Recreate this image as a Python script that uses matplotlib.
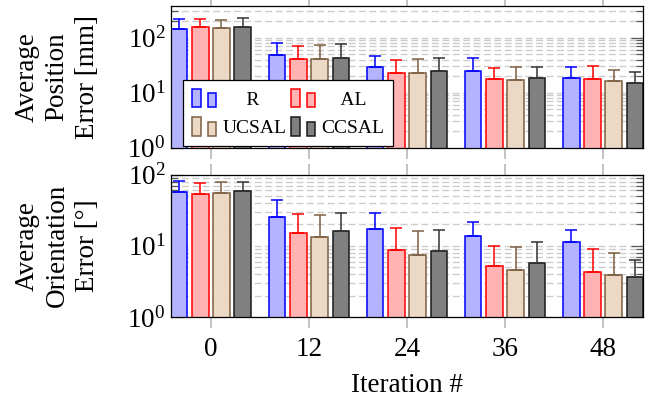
import numpy as np
import matplotlib
matplotlib.use('Agg')
import matplotlib.pyplot as plt
from matplotlib.patches import Rectangle
from matplotlib.legend_handler import HandlerBase
from matplotlib.ticker import LogLocator, NullFormatter
from matplotlib.font_manager import FontProperties

plt.rcParams['font.family'] = ['Liberation Serif', 'DejaVu Serif']
plt.rcParams['mathtext.fontset'] = 'custom'
plt.rcParams['mathtext.rm'] = 'Liberation Serif'
plt.rcParams['font.size'] = 19.5

# Data
iterations = [0, 12, 24, 36, 48]
methods = ['R', 'AL', 'UCSAL', 'CCSAL']

# average position error [mm] and upper error
pos_r = [144, 48.9, 29.6, 24.4, 18.8]
pos_al = [154, 40.7, 22.7, 18.0, 17.7]
pos_ucsal = [150, 40.7, 22.7, 17.3, 16.1]
pos_ccsal = [154, 43.1, 24.4, 18.5, 15.2]
pos_err_r = [71, 30, 16, 19, 10]
pos_err_al = [61, 31, 16, 10, 13]
pos_err_ucsal = [62, 32, 19, 12, 10]
pos_err_ccsal = [70, 33, 18, 11, 9]

# average orientation error [deg] and upper error
ori_r = [56.4, 25.1, 17.2, 13.7, 11.2]
ori_al = [53.9, 15.1, 8.8, 5.2, 4.3]
ori_ucsal = [54.6, 13.4, 7.35, 4.6, 3.85]
ori_ccsal = [58.2, 16.0, 8.4, 5.7, 3.7]
ori_err_r = [24, 18.4, 11.7, 8.1, 5.7]
ori_err_al = [22.3, 12.6, 9.0, 4.8, 4.6]
ori_err_ucsal = [23.2, 13.4, 8.65, 5.1, 4.15]
ori_err_ccsal = [21.2, 12.6, 8.1, 5.5, 2.7]

fills = ['#b3b3ff', '#ffb3b3', '#ebd9c6', '#808080']
edges = ['#0000ff', '#ff0000', '#7d5f41', '#1a1a1a']
errc = ['#0000ff', '#ff0000', '#7d5f41', '#333333']


class TwoBarHandler(HandlerBase):
    def create_artists(self, legend, orig_handle, xdescent, ydescent,
                       width, height, fontsize, trans):
        fc = orig_handle.get_facecolor()
        ec = orig_handle.get_edgecolor()
        lw = orig_handle.get_linewidth()
        r1 = Rectangle((-xdescent, -ydescent), width * 0.37, height,
                       fc=fc, ec=ec, lw=lw, transform=trans)
        r2 = Rectangle((-xdescent + width * 0.67, -ydescent), width * 0.33,
                       height * 0.75, fc=fc, ec=ec, lw=lw, transform=trans)
        return [r1, r2]


fig = plt.figure(figsize=(6.51, 4.03), dpi=100)
W, H = 651, 403
left, right = 171 / W, 643 / W
ax1 = fig.add_axes([left, 1 - 147.7 / H, right - left, 142 / H])
ax2 = fig.add_axes([left, 1 - 317 / H, right - left, 142.3 / H])

x = np.array(iterations, dtype=float)
step = 2.59
barw = 2.0
offsets = [-1.5, -0.5, 0.5, 1.5]


def draw(ax, vals, errs, ylim):
    for i in range(4):
        xs = x + offsets[i] * step
        ax.bar(xs, vals[i], width=barw, color=fills[i], edgecolor=edges[i],
               linewidth=1.1, zorder=2)
        ax.errorbar(xs, vals[i], yerr=[np.zeros(len(xs)), errs[i]], fmt='none',
                    ecolor=errc[i], elinewidth=1.1, capsize=4.5, capthick=1.1,
                    zorder=3)
    ax.set_yscale('log')
    ax.set_ylim(*ylim)
    ax.set_xlim(-1.5 * step - barw / 2, 48 + 1.5 * step + barw / 2)
    ax.set_axisbelow(True)
    ax.yaxis.set_major_locator(LogLocator(base=10, numticks=10))
    ax.yaxis.set_minor_locator(LogLocator(base=10, subs=np.arange(2, 10), numticks=20))
    ax.yaxis.set_minor_formatter(NullFormatter())
    ax.grid(True, which='both', axis='y', color='0.8', linestyle=(0, (5, 2.5)),
            linewidth=1.0)
    ax.tick_params(axis='y', which='major', direction='in', length=8.5, width=0.9,
                   color='0.35', left=True, right=True, pad=4)
    ax.tick_params(axis='y', which='minor', direction='in', length=5, width=0.9,
                   color='0.35', left=True, right=True)
    ax.set_xticks(iterations)
    ax.tick_params(axis='x', which='major', direction='out', length=8, width=1.1,
                   color='0.7', top=True, bottom=True, pad=6.5)
    for s in ax.spines.values():
        s.set_linewidth(0.9)


draw(ax1, [pos_r, pos_al, pos_ucsal, pos_ccsal],
     [pos_err_r, pos_err_al, pos_err_ucsal, pos_err_ccsal], (1, 380))
draw(ax2, [ori_r, ori_al, ori_ucsal, ori_ccsal],
     [ori_err_r, ori_err_al, ori_err_ucsal, ori_err_ccsal], (1, 100))
ax1.set_xticklabels([])
ax2.set_xticklabels([str(v) for v in iterations])

# legend: two columns, filled row-wise, labels centred in their column
leg_fs = 14
renderer = fig.canvas.get_renderer()
fp = FontProperties(family='Liberation Serif', size=leg_fs)


def tw(s):
    return renderer.get_text_width_height_descent(s, fp, ismath=False)[0]


space_w = tw('a a') - tw('aa')
order = [0, 2, 1, 3]
cols = [[0, 2], [1, 3]]
labels = []
for i in order:
    col = cols[0] if i in cols[0] else cols[1]
    colw = max(tw(methods[j]) for j in col)
    n = int(round((colw - tw(methods[i])) / 2 / space_w))
    labels.append(' ' * n + methods[i])
handles = [Rectangle((0, 0), 1, 1, fc=fills[i], ec=edges[i], lw=1.1) for i in order]
leg = ax1.legend(handles, labels, handler_map={Rectangle: TwoBarHandler()},
                 ncol=2, loc='lower left', bbox_to_anchor=(0.0254, 0.012),
                 borderaxespad=0, fontsize=leg_fs, handlelength=1.25,
                 handleheight=1.1, handletextpad=0.32, columnspacing=0.25,
                 labelspacing=0.45, borderpad=0.45, fancybox=False,
                 framealpha=1, edgecolor='black')
leg.get_frame().set_linewidth(0.9)
leg.set_zorder(5)

fig.text(57 / W, 1 - 76.7 / H, 'Average\nPosition\nError [mm]', rotation=90,
         ha='center', va='center', ma='center', linespacing=1.27)
fig.text(57 / W, 1 - 245.8 / H, 'Average\nOrientation\nError [°]', rotation=90,
         ha='center', va='center', ma='center', linespacing=1.27)
fig.text(406.7 / W, 1 - 392 / H, 'Iteration #', ha='center', va='baseline')

fig.savefig('out.png', dpi=100)
